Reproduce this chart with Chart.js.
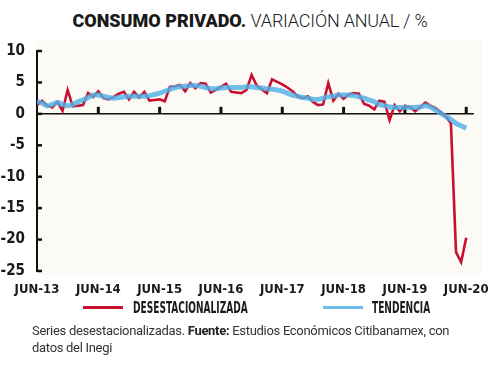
<!DOCTYPE html>
<html>
<head>
<meta charset="utf-8">
<script src="https://cdn.jsdelivr.net/npm/chart.js@4.4.1/dist/chart.umd.min.js"></script>
<style>
  html, body { margin: 0; padding: 0; background: #ffffff; }
  body { width: 500px; height: 368px; position: relative; overflow: hidden; font-family: Roboto, "Noto Sans", sans-serif; }
  #title { position: absolute; top: 10px; left: 0; width: 500px; text-align: center; font-size: 18px; color: #1a1a1a; white-space: nowrap; }
  #title b { font-weight: 900; letter-spacing: 0px; }
  #title span { font-weight: 300; letter-spacing: -0.2px; }
  #wrap { position: absolute; top: 0; left: 0; width: 500px; height: 300px; }
  .leg { position: absolute; top: 299px; height: 18px; }
  .leg i { position: absolute; top: 7px; height: 3px; width: 40px; }
  .leg em { position: absolute; left: 0; top: 0; font-style: normal; font-weight: bold; font-family: "Liberation Sans Narrow", "DejaVu Sans Condensed", sans-serif; font-size: 15px; color: #1a1a1a; transform-origin: 0 0; transform: scaleX(0.67); white-space: nowrap; }
  #note { position: absolute; left: 32px; top: 322px; width: 465px; font-size: 13px; line-height: 17px; letter-spacing: -0.3px; color: #333; }
  #note b { font-weight: bold; color: #222; }
</style>
</head>
<body>
<div id="title"><b>CONSUMO PRIVADO.</b> <span>VARIACIÓN ANUAL / %</span></div>
<div id="wrap"><canvas id="c"></canvas></div>
<div class="leg" style="left:83px;"><i style="left:0;background:#c8102e;"></i><em style="left:50px;">DESESTACIONALIZADA</em></div>
<div class="leg" style="left:323px;"><i style="left:0;background:#6cbde9;"></i><em style="left:49px;">TENDENCIA</em></div>
<div id="note">Series desestacionalizadas. <b>Fuente:</b> Estudios Económicos Citibanamex, con<br>datos del Inegi</div>
<script>
// Months since June 2013
const months = [];
for (let i = 0; i <= 84; i++) months.push(i);

const desestacionalizada = [
  1.4, 2.1, 1.3, 1.0, 1.9, 0.5, 3.8, 1.2, 1.3, 1.4,
  3.3, 2.7, 3.6, 2.5, 2.3, 2.7, 3.2, 3.5, 2.3, 3.5,
  2.6, 3.5, 2.1, 2.2, 2.3, 2.0, 4.3, 4.4, 4.6, 3.6,
  4.9, 4.1, 4.9, 4.8, 3.4, 3.8, 4.3, 4.8, 3.5, 3.4,
  3.3, 3.8, 6.2, 4.5, 3.9, 3.3, 5.5, 5.1, 4.7, 4.2,
  3.6, 2.8, 2.5, 2.8, 1.9, 1.4, 1.5, 4.9, 2.1, 3.2,
  2.4, 3.1, 3.3, 3.2, 1.6, 1.3, 0.7, 2.1, 1.9, -1.0,
  1.4, 0.4, 1.3, 1.1, 0.4, 1.1, 1.8, 1.3, 0.9, 0.3,
  -0.4, -1.5, -22.0, -23.6, -19.7
];

const tendencia = [
  2.0, 1.7, 1.3, 1.5, 1.8, 1.5, 1.3, 1.5, 1.9, 2.2,
  2.6, 3.0, 3.0, 2.8, 2.6, 2.5, 2.6, 2.7, 2.8, 2.8,
  2.8, 2.8, 2.9, 3.1, 3.3, 3.6, 3.9, 4.2, 4.3, 4.4,
  4.5, 4.5, 4.4, 4.2, 4.0, 4.0, 4.1, 4.2, 4.2, 4.2,
  4.2, 4.3, 4.3, 4.2, 4.1, 4.0, 3.9, 3.8, 3.6, 3.3,
  3.0, 2.8, 2.6, 2.5, 2.3, 2.3, 2.5, 2.7, 2.8, 3.0,
  3.0, 3.0, 2.9, 2.7, 2.5, 2.2, 1.9, 1.5, 1.3, 1.1,
  1.0, 1.0, 1.0, 1.0, 1.0, 1.1, 1.3, 1.1, 0.6, 0.1,
  -0.4, -0.9, -1.5, -1.9, -2.3
];

const xTickMonths = [0, 12, 24, 36, 48, 60, 72, 84];
const xTickLabels = ['JUN-13', 'JUN-14', 'JUN-15', 'JUN-16', 'JUN-17', 'JUN-18', 'JUN-19', 'JUN-20'];
const yTicks = [10, 5, 0, -5, -10, -15, -20, -25];

const toXY = arr => arr.map((v, i) => ({ x: months[i], y: v }));

const decor = {
  id: 'decor',
  beforeDraw(chart) {
    const { ctx, chartArea: a } = chart;
    ctx.save();
    ctx.fillStyle = '#fcfaf5';
    ctx.fillRect(a.left, a.top - 10, a.right - a.left + 8, a.bottom - a.top + 14);
    ctx.restore();
  },
  beforeDatasetsDraw(chart) {
    const { ctx, chartArea: a, scales: { x, y } } = chart;
    ctx.save();
    ctx.strokeStyle = '#111';
    const y0 = y.getPixelForValue(0);
    ctx.lineWidth = 1.5;
    ctx.beginPath(); ctx.moveTo(a.left, y0); ctx.lineTo(a.right, y0); ctx.stroke();
    ctx.lineWidth = 3;
    xTickMonths.slice(1).forEach(m => {
      const px = x.getPixelForValue(m);
      ctx.beginPath(); ctx.moveTo(px, y0); ctx.lineTo(px, y0 - 7); ctx.stroke();
    });
    ctx.lineWidth = 2.5;
    yTicks.forEach(v => {
      const py = y.getPixelForValue(v);
      ctx.beginPath(); ctx.moveTo(a.left, py); ctx.lineTo(a.left + 5, py); ctx.stroke();
    });
    ctx.restore();
  }
};

new Chart(document.getElementById('c'), {
  type: 'line',
  data: {
    datasets: [
      {
        label: 'TENDENCIA',
        data: toXY(tendencia),
        borderColor: 'rgba(80,178,232,0.82)',
        borderWidth: 5,
        tension: 0.4,
        pointRadius: 0,
        fill: false
      },
      {
        label: 'DESESTACIONALIZADA',
        data: toXY(desestacionalizada),
        borderColor: '#c8102e',
        borderWidth: 2.6,
        tension: 0,
        pointRadius: 0,
        borderJoinStyle: 'miter',
        fill: false
      }
    ]
  },
  plugins: [decor],
  options: {
    responsive: true,
    maintainAspectRatio: false,
    animation: false,
    layout: { padding: { top: 51, right: 22, bottom: 0, left: 0 } },
    plugins: { legend: { display: false }, tooltip: { enabled: false } },
    scales: {
      x: {
        type: 'linear',
        min: 0,
        max: 85.5,
        afterBuildTicks: s => { s.ticks = xTickMonths.map(v => ({ value: v })); },
        afterFit: s => { s.height = 29; },
        grid: { display: false, drawTicks: false },
        border: { display: false },
        ticks: {
          padding: 11,
          maxRotation: 0,
          autoSkip: false,
          color: '#1a1a1a',
          font: { family: '"Liberation Sans Narrow", "DejaVu Sans Condensed", sans-serif', weight: 'bold', size: 13 },
          callback: v => xTickLabels[xTickMonths.indexOf(v)] || ''
        }
      },
      y: {
        min: -25,
        max: 10,
        afterBuildTicks: s => { s.ticks = yTicks.map(v => ({ value: v })); },
        afterFit: s => { s.width = 37; },
        grid: { display: false, drawTicks: false },
        border: { display: true, color: '#111', width: 2 },
        ticks: {
          padding: 12,
          color: '#1a1a1a',
          font: { family: '"DejaVu Sans Condensed", "Liberation Sans Narrow", sans-serif', weight: 'bold', size: 15 }
        }
      }
    }
  }
});
</script>
</body>
</html>
